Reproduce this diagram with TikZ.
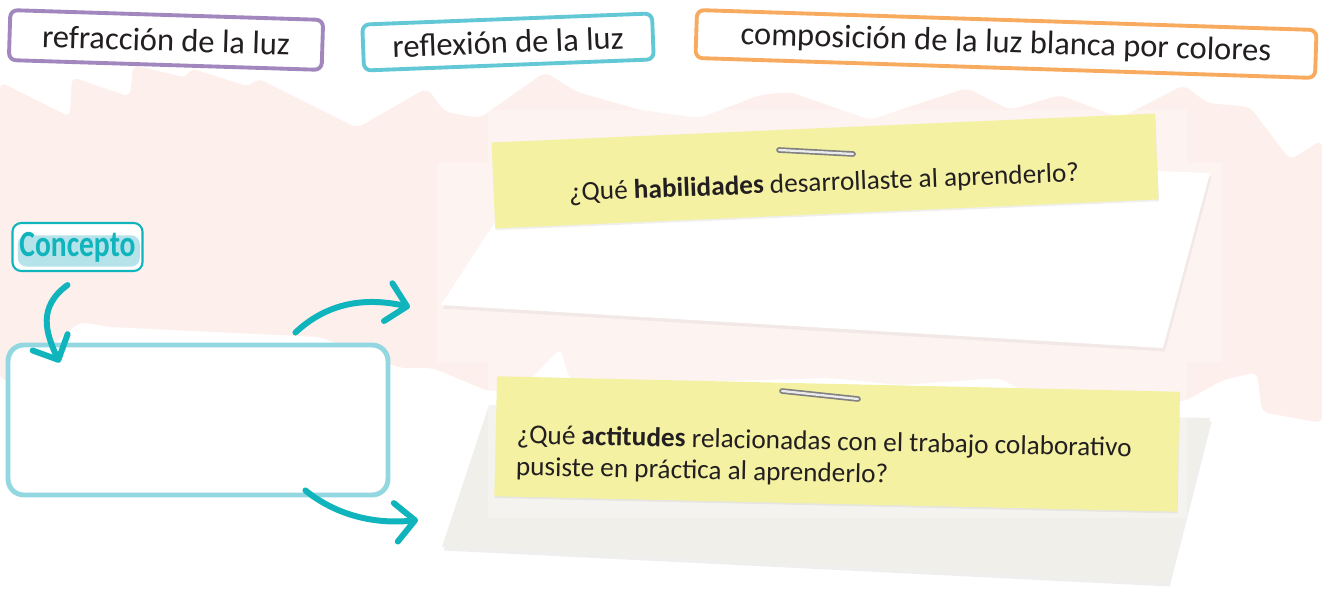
\documentclass[tikz,border=0pt]{standalone}
\usepackage{fontspec}
\setmainfont{Carlito}
\usepackage{xcolor}
\usetikzlibrary{arrows.meta,calc,positioning,shadows}

\definecolor{pinkc}{HTML}{FDEFEB}
\definecolor{notec}{HTML}{F4F1A3}
\definecolor{greypaper}{HTML}{F0EFEA}
\definecolor{arrowc}{HTML}{0FB4BC}
\definecolor{framec}{HTML}{93D8E0}
\definecolor{conceptfill}{HTML}{B6E3EA}
\definecolor{purplec}{HTML}{A286BE}
\definecolor{cyanc}{HTML}{62C8D5}
\definecolor{orangec}{HTML}{F8AA5E}
\definecolor{inkc}{HTML}{231F20}

\begin{document}
\begin{tikzpicture}[x=0.02cm, y=-0.02cm,
  tagbox/.style={draw, line width=2.2pt, rounded corners=4pt, fill=white, inner sep=0pt,
    font=\fontsize{18.5}{20}\selectfont, text=inkc},
  notebox/.style={fill=notec, inner sep=0pt,
    drop shadow={shadow xshift=0.3pt, shadow yshift=-1pt, opacity=0.12}},
  notetext/.style={font=\fontsize{15.5}{18}\selectfont, text=inkc, inner sep=0pt},
  paper/.style={drop shadow={shadow xshift=1pt, shadow yshift=-2pt, opacity=0.12}},
  staple/.style={line width=3.2pt, line cap=round, draw=black!50,
    postaction={draw=black!8, line width=1.3pt}},
  arrowline/.style={draw=arrowc, line width=3.4pt, line cap=round,
    -{Straight Barb[length=11pt,width=22pt,round]}}
]
  \useasboundingbox (0,0) rectangle (1322,604);
  \fill[white] (0,0) rectangle (1322,604);

  % pink scribble behind everything
  \fill[pinkc, rounded corners=4pt] (0,82) -- (70,117) -- (72,77) -- (130,97) -- (133,65)
    -- (187,78) -- (190,68) -- (250,87) -- (257,78) -- (357,128) -- (427,88) -- (445,112)
    -- (480,118) -- (545,72) -- (577,92) -- (640,110) -- (700,118) -- (760,95) -- (790,92)
    -- (870,120) -- (930,100) -- (967,88) -- (1010,110) -- (1060,95) -- (1120,118)
    -- (1184,85) -- (1207,103) -- (1250,107) -- (1290,160) -- (1322,140)
    -- (1322,423) -- (1262,412) -- (1257,372) -- (1223,380) -- (1183,402) -- (1100,392)
    -- (1030,395) -- (1000,378) -- (900,385) -- (830,378) -- (690,382) -- (570,380)
    -- (560,348) -- (530,380) -- (490,392) -- (433,368) -- (400,368) -- (320,337)
    -- (110,327) -- (80,322) -- (10,380) -- (0,380) -- cycle;

  % the two papers
  \coordinate (hab-tl) at (542,150);
  \coordinate (hab-tr) at (1210,173);
  \coordinate (hab-br) at (1163,348);
  \coordinate (hab-bl) at (441,305);
  \fill[white, paper] (hab-tl) -- (hab-tr) -- (hab-br) -- (hab-bl) -- cycle;

  \coordinate (act-tl) at (489,405);
  \coordinate (act-tr) at (1210,418);
  \coordinate (act-br) at (1168,583);
  \coordinate (act-bl) at (442,547);
  \fill[greypaper, paper] (act-tl) -- (act-tr) -- (act-br) -- (act-bl) -- cycle;

  \fill[white, opacity=0.28] (437,163) rectangle (1222,362) (488,110) rectangle (1187,518);

  % sticky notes
  \node[notebox, minimum width=13.28cm, minimum height=1.72cm, rotate=2.5] (note1) at (825,171) {};
  \node[notebox, minimum width=13.66cm, minimum height=2.4cm, rotate=-1.3] (note2) at (837,444) {};
  \draw[staple] ($(note1.center)+(-46,-21)$) -- ++(74,4);
  \draw[staple] ($(note2.center)+(-55,-53)$) -- ++(76,8);
  \node[notetext, rotate=2.2] (qhab) at (824,184)
    {¿Qué \textbf{habilidades} desarrollaste al aprenderlo?};
  \node[notetext, rotate=-1.2, anchor=west, align=left] (qact) at (516,452)
    {¿Qué \textbf{actitudes} relacionadas con el trabajo colaborativo\\pusiste en práctica al aprenderlo?};

  % topic labels
  \node[tagbox, draw=purplec, minimum width=6.26cm, minimum height=1.0cm, rotate=-1.8]
    (refraccion) at (166,40) {refracción de la luz};
  \node[tagbox, draw=cyanc, minimum width=5.8cm, minimum height=0.92cm, rotate=2.2]
    (reflexion) at (508,42) {reflexión de la luz};
  \node[tagbox, draw=orangec, minimum width=12.4cm, minimum height=0.96cm, rotate=-1.85]
    (composicion) at (1006,44) {composición de la luz blanca por colores};

  % concept tag and empty box
  \node[draw=arrowc, line width=1.2pt, rounded corners=5pt, fill=white, inner sep=0pt,
    minimum width=2.6cm, minimum height=0.96cm, text=arrowc,
    font=\fontsize{21}{22}\selectfont\bfseries\addfontfeatures{FakeStretch=0.8},
    path picture={\fill[conceptfill] ([shift={(3pt,-7pt)}]path picture bounding box.north west)
      rectangle ([shift={(-1.5pt,2.5pt)}]path picture bounding box.south east);}]
    (concepto) at (77.5,247) {Concepto};
  \node[draw=framec, line width=2.8pt, rounded corners=9pt, fill=white,
    minimum width=7.6cm, minimum height=3.0cm] (respuesta) at (198,420) {};

  % arrows
  \draw[arrowline] ($(concepto.south)+(-10,13)$) .. controls +(-30,22) and +(-14,-30)
    .. ($(respuesta.north west)+(54,20)$);
  \draw[arrowline] ($(respuesta.north east)+(-95,-10)$) .. controls +(32,-30) and +(-45,-10)
    .. ($(hab-bl)+(-31,2)$);
  \draw[arrowline] ($(respuesta.south east)+(-85,-7)$) .. controls +(27,22) and +(-48,5)
    .. ($(act-bl)+(-24,-27)$);
\end{tikzpicture}
\end{document}
